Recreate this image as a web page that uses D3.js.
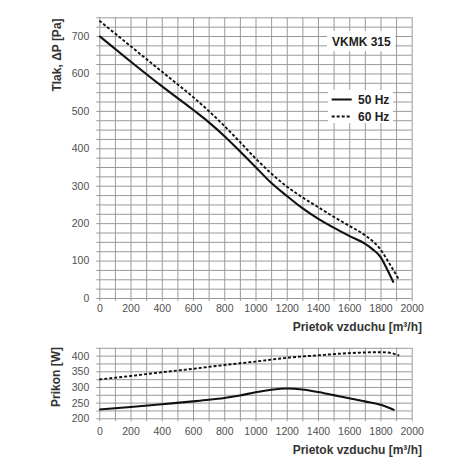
<!DOCTYPE html>
<html>
<head>
<meta charset="utf-8">
<script src="https://cdn.jsdelivr.net/npm/d3@7"></script>
<style>
  body { margin: 0; background: #fff; }
  svg { font-family: "Liberation Sans", Arial, sans-serif; }
  .grid line { stroke: #9a9a9a; stroke-width: 1; }
  .grid path { display: none; }
  .lbl text { fill: #505050; font-size: 10.5px; }
  .lbl path, .lbl line { display: none; }
  .title { font-weight: bold; font-size: 12px; fill: #333; }
</style>
</head>
<body>
<svg id="chart" width="470" height="470"></svg>
<script>
// flow axis (m3/h), shared by both panels
const flowTicks = [0, 200, 400, 600, 800, 1000, 1200, 1400, 1600, 1800, 2000];

// pressure curves, Tlak dP [Pa]
const flow50 = [0, 200, 400, 600, 700, 800, 900, 1000, 1100, 1200, 1300, 1400, 1500, 1600, 1700, 1750, 1800, 1840, 1884];
const pres50 = [700, 632, 566, 503, 470, 433, 392, 350, 308, 273, 240, 212, 188, 166, 145, 130, 110, 79, 41];
const flow60 = [0, 200, 400, 600, 700, 800, 900, 1000, 1100, 1200, 1300, 1400, 1500, 1600, 1700, 1750, 1800, 1850, 1920];
const pres60 = [741, 673, 605, 537, 500, 460, 417, 373, 333, 298, 269, 243, 217, 193, 168, 152, 130, 97, 48];
const presTicks = [0, 100, 200, 300, 400, 500, 600, 700];

// power curves, Prikon [W]
const pflow50 = [0, 200, 400, 600, 700, 800, 900, 1000, 1100, 1200, 1300, 1400, 1500, 1600, 1700, 1800, 1890];
const power50 = [228, 236, 245, 254, 259, 265, 273, 283, 291, 295, 292, 284, 274, 264, 254, 243, 226];
const pflow60 = [0, 200, 400, 600, 800, 1000, 1200, 1400, 1600, 1800, 1850, 1920];
const power60 = [324, 335, 347, 358, 370, 381, 393, 401, 408, 411, 410, 400];
const powerTicks = [200, 250, 300, 350, 400];

const svg = d3.select("#chart");

const x = d3.scaleLinear().domain([0, 2000]).range([99.3, 411.7]);
const yP = d3.scaleLinear().domain([0, 750]).range([298, 17.3]);
const yW = d3.scaleLinear().domain([200, 425]).range([418.3, 347.8]);

const step = (a, b, s) => d3.range(a, b + 0.001, s);

// draw one panel: grid, tick labels, two curves
const drawPanel = (y, yGrid, yLabels, labelPad, curves) => {
  const [y0, y1] = y.range();
  const h = y0 - y1;

  svg.append("g").attr("class", "grid")
    .attr("transform", `translate(0,${y0 + 3})`)
    .call(d3.axisBottom(x).tickValues(step(0, 2000, 100)).tickSize(-(h + 3)).tickFormat(""));

  svg.append("g").attr("class", "grid")
    .attr("transform", `translate(${x(0) - 3},0)`)
    .call(d3.axisLeft(y).tickValues(yGrid).tickSize(-(x(2000) - x(0) + 3)).tickFormat(""));

  svg.append("g").attr("class", "lbl")
    .attr("transform", `translate(0,${y0})`)
    .call(d3.axisBottom(x).tickValues(flowTicks).tickSize(0).tickPadding(labelPad).tickFormat(d3.format("d")));

  svg.append("g").attr("class", "lbl")
    .attr("transform", `translate(${x(0)},0)`)
    .call(d3.axisLeft(y).tickValues(yLabels).tickSize(0).tickPadding(10).tickFormat(d3.format("d")));

  curves.forEach((c) => {
    const pts = c.fx.map((f, i) => [f, c.vy[i]]);
    const line = d3.line().x((d) => x(d[0])).y((d) => y(d[1])).curve(d3.curveMonotoneX);
    const p = svg.append("path").datum(pts)
      .attr("d", line)
      .attr("fill", "none")
      .attr("stroke", "#111")
      .attr("stroke-width", c.dash ? 1.9 : 2.1);
    if (c.dash) p.attr("stroke-dasharray", "3,2");
  });
};

drawPanel(yP, step(0, 750, 25), presTicks, 7, [
  { fx: flow50, vy: pres50, dash: false },
  { fx: flow60, vy: pres60, dash: true }
]);

drawPanel(yW, step(200, 425, 25), powerTicks, 9, [
  { fx: pflow50, vy: power50, dash: false },
  { fx: pflow60, vy: power60, dash: true }
]);

// axis titles
svg.append("text").attr("class", "title")
  .attr("text-anchor", "end").attr("x", 422).attr("y", 331)
  .text("Prietok vzduchu [m³/h]");
svg.append("text").attr("class", "title")
  .attr("text-anchor", "end").attr("x", 422).attr("y", 454)
  .text("Prietok vzduchu [m³/h]");
svg.append("text").attr("class", "title")
  .attr("text-anchor", "middle")
  .attr("transform", "translate(61,55) rotate(-90)")
  .text("Tlak, ΔP [Pa]");
svg.append("text").attr("class", "title")
  .attr("text-anchor", "middle")
  .attr("transform", "translate(60,377) rotate(-90)")
  .text("Prikon [W]");

// model name and legend on white boxes
svg.append("rect").attr("x", 327).attr("y", 31).attr("width", 68).attr("height", 20).attr("fill", "#fff");
svg.append("text").attr("class", "title").attr("x", 332).attr("y", 46)
  .style("fill", "#222").text("VKMK 315");

svg.append("rect").attr("x", 328).attr("y", 90).attr("width", 65).attr("height", 33).attr("fill", "#fff");
const legend = [
  { name: "50 Hz", dash: false, y: 99.5 },
  { name: "60 Hz", dash: true, y: 116.5 }
];
legend.forEach((d) => {
  const l = svg.append("line")
    .attr("x1", 331.7).attr("x2", 351.7).attr("y1", d.y).attr("y2", d.y)
    .attr("stroke", "#111").attr("stroke-width", 2);
  if (d.dash) l.attr("stroke-dasharray", "3,2");
  svg.append("text").attr("class", "title").attr("x", 358).attr("y", d.y + 4)
    .style("fill", "#222").text(d.name);
});
</script>
</body>
</html>
